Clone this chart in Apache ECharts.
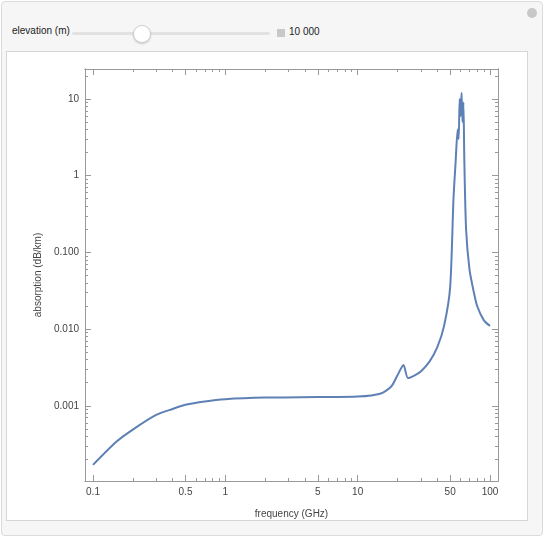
<!DOCTYPE html>
<html>
<head>
<meta charset="utf-8">
<script src="https://cdn.jsdelivr.net/npm/echarts@6/dist/echarts.min.js"></script>
<style>
  body { margin: 0; font-family: "Liberation Sans", Arial, sans-serif; }
  #panel { position: absolute; left: 1px; top: 1px; width: 540px; height: 533px; background: #f6f6f6;
           border: 1px solid #dcdcdc; border-radius: 4px; }
  #ctrl { position: absolute; left: 12px; top: 25px; font-size: 10px; color: #222; }
  #track { position: absolute; left: 72px; top: 32px; width: 198px; height: 3px; background: #e2e2e2; border-radius: 2px; }
  #knob { position: absolute; left: 133px; top: 25px; width: 16px; height: 16px; border-radius: 50%; background: #fff;
          border: 1px solid #d0d0d0; box-shadow: 0 1px 2px rgba(0,0,0,0.2); }
  #plus { position: absolute; left: 277px; top: 29px; width: 8px; height: 8px; background: #c8c8c8; }
  #val { position: absolute; left: 289px; top: 26px; font-size: 10px; color: #222; }
  #add { position: absolute; left: 527px; top: 8px; width: 10px; height: 10px; border-radius: 50%; background: #c8c8c8; }
  #box { position: absolute; left: 6px; top: 51px; width: 520px; height: 468px; background: #fff; border: 1px solid #d6d6d6; }
  #chart { position: absolute; left: 0; top: 0; width: 544px; height: 537px; }
</style>
</head>
<body>
<div id="panel"></div>
<div id="ctrl">elevation (m)</div>
<div id="track"></div><div id="knob"></div><div id="plus"></div>
<div id="val">10 000</div><div id="add"></div>
<div id="box"></div>
<div id="chart"></div>
<script>
var freq = [0.1, 0.15, 0.2, 0.3, 0.4, 0.5, 0.7, 1, 2, 5, 10, 15, 18, 20, 22.2, 24, 27, 30, 35, 40, 45, 50, 53, 55, 57, 58, 59, 60, 61, 62, 63, 64, 66, 70, 75, 80, 90, 100];
var absorption = [1.7e-4, 3.4e-4, 4.9e-4, 7.6e-4, 9.1e-4, 1.03e-3, 1.14e-3, 1.22e-3, 1.28e-3, 1.3e-3, 1.32e-3, 1.45e-3, 1.8e-3, 2.5e-3, 3.4e-3, 2.3e-3, 2.5e-3, 2.8e-3, 3.8e-3, 5.8e-3, 0.011, 0.035, 0.5, 1.5, 4, 3, 10, 6, 12, 5, 9, 1.6, 0.2, 0.06, 0.032, 0.02, 0.013, 0.011];
var xMajor = [0.1, 0.5, 1, 5, 10, 50, 100];
var xMinor = [0.1,0.2,0.3,0.4,0.5,0.6,0.7,0.8,0.9,1,2,3,4,5,6,7,8,9,10,20,30,40,50,60,70,80,90,100];
var yMajor = [0.001, 0.01, 0.1, 1, 10];
var yLabels = ['0.001', '0.010', '0.100', '1', '10'];
var yMinor = [];
[1e-4, 1e-3, 1e-2, 1e-1, 1, 10].forEach(function (d) {
    for (var k = 1; k < 10; k++) yMinor.push(d * k);
});

var lg = function (v) { return Math.log10(v); };
var xMin = lg(0.087), xMax = lg(115), yMin = -3.98, yMax = 1.39;
var axisColor = '#999';
var font = {color: '#444', fontSize: 10, fontFamily: 'Liberation Sans'};

function xAx(pos, vals, len, labels) {
    return {
        type: 'value', position: pos, min: xMin, max: xMax,
        axisLine: {show: true, onZero: false, lineStyle: {color: axisColor}},
        splitLine: {show: false},
        axisTick: {show: true, inside: true, length: len, customValues: vals.map(lg), lineStyle: {color: axisColor}},
        axisLabel: labels ? Object.assign({show: true, customValues: xMajor.map(lg), margin: 6,
            formatter: function (v) {
                var f = Math.pow(10, v);
                return String(Math.round(f * 10) / 10);
            }}, font) : {show: false},
        name: labels ? 'frequency (GHz)' : '', nameLocation: 'middle', nameGap: 28,
        nameTextStyle: font
    };
}
function yAx(pos, vals, len, labels) {
    return {
        type: 'value', position: pos, min: yMin, max: yMax,
        axisLine: {show: true, onZero: false, lineStyle: {color: axisColor}},
        splitLine: {show: false},
        axisTick: {show: true, inside: true, length: len, customValues: vals.map(lg), lineStyle: {color: axisColor}},
        axisLabel: labels ? Object.assign({show: true, customValues: yMajor.map(lg), margin: 6,
            formatter: function (v) {
                return yLabels[Math.round(v) + 3];
            }}, font) : {show: false},
        name: labels ? 'absorption (dB/km)' : '', nameLocation: 'middle', nameGap: 38, nameRotate: 90,
        nameTextStyle: font
    };
}

var myChart = echarts.init(document.getElementById('chart'));
var option = {
    animation: false,
    grid: {left: 85, top: 69, width: 413, height: 412},
    xAxis: [
        xAx('bottom', xMajor, 6, true), xAx('bottom', xMinor, 3, false),
        xAx('top', xMajor, 6, false), xAx('top', xMinor, 3, false)
    ],
    yAxis: [
        yAx('left', yMajor, 6, true), yAx('left', yMinor, 3, false),
        yAx('right', yMajor, 6, false), yAx('right', yMinor, 3, false)
    ],
    series: [{
        type: 'line', showSymbol: false, smooth: 0.25,
        lineStyle: {color: '#5e81b5', width: 2},
        data: freq.map(function (f, i) { return [lg(f), lg(absorption[i])]; })
    }]
};
myChart.setOption(option);
</script>
</body>
</html>
